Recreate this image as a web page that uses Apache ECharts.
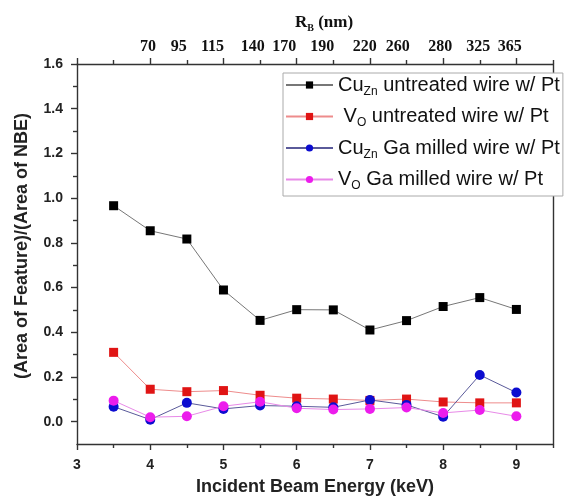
<!DOCTYPE html>
<html>
<head>
<meta charset="utf-8">
<script src="https://cdn.jsdelivr.net/npm/echarts@6/dist/echarts.min.js"></script>
<style>
  html, body { margin: 0; padding: 0; background: #fff; }
  #chart { width: 577px; height: 502px; }
</style>
</head>
<body>
<div id="chart"></div>
<script>
// incident beam energy (keV)
const energy = [3.5, 4, 4.5, 5, 5.5, 6, 6.5, 7, 7.5, 8, 8.5, 9]
const cuZnUntreated = [0.966, 0.854, 0.817, 0.589, 0.453, 0.501, 0.500, 0.410, 0.452, 0.515, 0.555, 0.502]
const vOUntreated = [0.310, 0.145, 0.134, 0.139, 0.118, 0.105, 0.101, 0.095, 0.101, 0.088, 0.084, 0.084]
const cuZnGaMilled = [0.067, 0.009, 0.084, 0.057, 0.072, 0.069, 0.064, 0.097, 0.075, 0.022, 0.209, 0.130]
const vOGaMilled = [0.094, 0.020, 0.024, 0.069, 0.089, 0.060, 0.054, 0.057, 0.063, 0.039, 0.052, 0.024]

// tick labels
const xMajor = [3, 4, 5, 6, 7, 8, 9]
const xMinor = [3.5, 4.5, 5.5, 6.5, 7.5, 8.5, 9.5]
const yMajor = [0, 0.2, 0.4, 0.6, 0.8, 1.0, 1.2, 1.4, 1.6]
const yMinor = [0.1, 0.3, 0.5, 0.7, 0.9, 1.1, 1.3, 1.5]
// top axis: R_B (nm) labels and where they sit on the energy scale
const rbLabels = ['70', '95', '115', '140', '170', '190', '220', '260', '280', '325', '365']
const rbPos = [3.97, 4.39, 4.85, 5.40, 5.83, 6.35, 6.93, 7.38, 7.96, 8.48, 8.91]

const sans = 'Liberation Sans'
const serif = 'Liberation Serif'
const axisLineStyle = { color: '#333', width: 1.4 }

const chart = echarts.init(document.getElementById('chart'))

function pairs(arr) {
  return energy.map((e, i) => [e, arr[i]])
}

// 主刻度/次刻度分成两条叠在一起的轴
function xAxisBase(position, ticks, len) {
  return {
    type: 'value',
    position: position,
    min: 3,
    max: 9.5,
    axisLine: { show: false, onZero: false },
    axisTick: { show: true, customValues: ticks, length: len, lineStyle: axisLineStyle },
    axisLabel: { show: false },
    splitLine: { show: false }
  }
}

const rich = {
  n: { fontFamily: sans, fontSize: 20, color: '#111' },
  s: { fontFamily: sans, fontSize: 12, color: '#111', padding: [13, 0, 0, 0] }
}

chart.setOption({
  backgroundColor: '#fff',
  animation: false,
  title: {
    text: '{a|R}{b|B}{a| (nm)}',
    left: 290,
    top: 8,
    textStyle: {
      rich: {
        a: { fontFamily: serif, fontWeight: 'bold', fontSize: 17, color: '#111' },
        b: { fontFamily: serif, fontWeight: 'bold', fontSize: 10, color: '#111', padding: [10, 0, 0, 0] }
      }
    }
  },
  legend: {
    orient: 'vertical',
    left: 283,
    top: 73,
    padding: [2, 3, 4, 2],
    itemGap: 9,
    itemWidth: 47,
    itemHeight: 9,
    backgroundColor: '#fff',
    borderColor: '#aaa',
    borderWidth: 1,
    borderRadius: 0,
    textStyle: { rich: rich },
    formatter: function(name) {
      if (name === 'cuZnUntreated') return '{n|Cu}{s|Zn}{n| untreated wire w/ Pt}'
      if (name === 'vOUntreated') return '{n| V}{s|O}{n| untreated wire w/ Pt}'
      if (name === 'cuZnGaMilled') return '{n|Cu}{s|Zn}{n| Ga milled wire w/ Pt}'
      return '{n|V}{s|O}{n| Ga milled wire w/ Pt}'
    }
  },
  grid: {
    left: 77,
    right: 24,
    top: 64,
    bottom: 58
  },
  xAxis: [
    {
      type: 'value',
      position: 'bottom',
      min: 3,
      max: 9.5,
      axisLine: { show: true, onZero: false, lineStyle: axisLineStyle },
      axisTick: { show: true, customValues: xMajor, length: 6, lineStyle: axisLineStyle },
      axisLabel: {
        customValues: xMajor,
        margin: 14,
        fontFamily: sans,
        fontWeight: 'bold',
        fontSize: 14,
        color: '#222'
      },
      splitLine: { show: false },
      name: 'Incident Beam Energy (keV)',
      nameLocation: 'middle',
      nameGap: 34,
      nameTextStyle: { fontFamily: sans, fontWeight: 'bold', fontSize: 18, color: '#222' }
    },
    xAxisBase('bottom', xMinor, 4),
    {
      type: 'value',
      position: 'top',
      min: 3,
      max: 9.5,
      axisLine: { show: true, onZero: false, lineStyle: axisLineStyle },
      axisTick: { show: true, customValues: xMajor, length: 6, lineStyle: axisLineStyle },
      axisLabel: {
        customValues: rbPos,
        margin: 9,
        fontFamily: serif,
        fontWeight: 'bold',
        fontSize: 16,
        color: '#111',
        formatter: function(v) {
          let best = 0
          rbPos.forEach((p, i) => { if (Math.abs(p - v) < Math.abs(rbPos[best] - v)) best = i })
          return rbLabels[best]
        }
      },
      splitLine: { show: false }
    },
    xAxisBase('top', xMinor, 4)
  ],
  yAxis: [
    {
      type: 'value',
      position: 'left',
      min: -0.1,
      max: 1.6,
      axisLine: { show: true, onZero: false, lineStyle: axisLineStyle },
      axisTick: { show: true, customValues: yMajor, length: 6, lineStyle: axisLineStyle },
      axisLabel: {
        customValues: yMajor,
        margin: 14,
        fontFamily: sans,
        fontWeight: 'bold',
        fontSize: 14,
        color: '#222',
        formatter: v => v.toFixed(1)
      },
      splitLine: { show: false },
      name: '(Area of Feature)/(Area of NBE)',
      nameLocation: 'middle',
      nameGap: 46,
      nameTextStyle: {
        fontFamily: sans,
        fontWeight: 'bold',
        fontSize: 18,
        color: '#222',
        padding: [0, 0, 0, 16]
      }
    },
    {
      type: 'value',
      position: 'left',
      min: -0.1,
      max: 1.6,
      axisLine: { show: false, onZero: false },
      axisTick: { show: true, customValues: yMinor, length: 4, lineStyle: axisLineStyle },
      axisLabel: { show: false },
      splitLine: { show: false }
    },
    {
      type: 'value',
      position: 'right',
      min: -0.1,
      max: 1.6,
      axisLine: { show: true, onZero: false, lineStyle: axisLineStyle },
      axisTick: { show: false },
      axisLabel: { show: false },
      splitLine: { show: false }
    }
  ],
  series: [
    {
      name: 'cuZnUntreated',
      type: 'line',
      data: pairs(cuZnUntreated),
      symbol: 'rect',
      symbolSize: 9,
      itemStyle: { color: '#000' },
      lineStyle: { color: '#777', width: 1 }
    },
    {
      name: 'vOUntreated',
      type: 'line',
      data: pairs(vOUntreated),
      symbol: 'rect',
      symbolSize: 9,
      itemStyle: { color: '#e01414' },
      lineStyle: { color: '#ee8c8c', width: 1 }
    },
    {
      name: 'cuZnGaMilled',
      type: 'line',
      data: pairs(cuZnGaMilled),
      symbol: 'circle',
      symbolSize: 10,
      itemStyle: { color: '#0c0cd0' },
      lineStyle: { color: '#5a5a9a', width: 1 }
    },
    {
      name: 'vOGaMilled',
      type: 'line',
      data: pairs(vOGaMilled),
      symbol: 'circle',
      symbolSize: 10,
      itemStyle: { color: '#ec1cec' },
      lineStyle: { color: '#e88ae8', width: 1 }
    }
  ]
})
</script>
</body>
</html>
